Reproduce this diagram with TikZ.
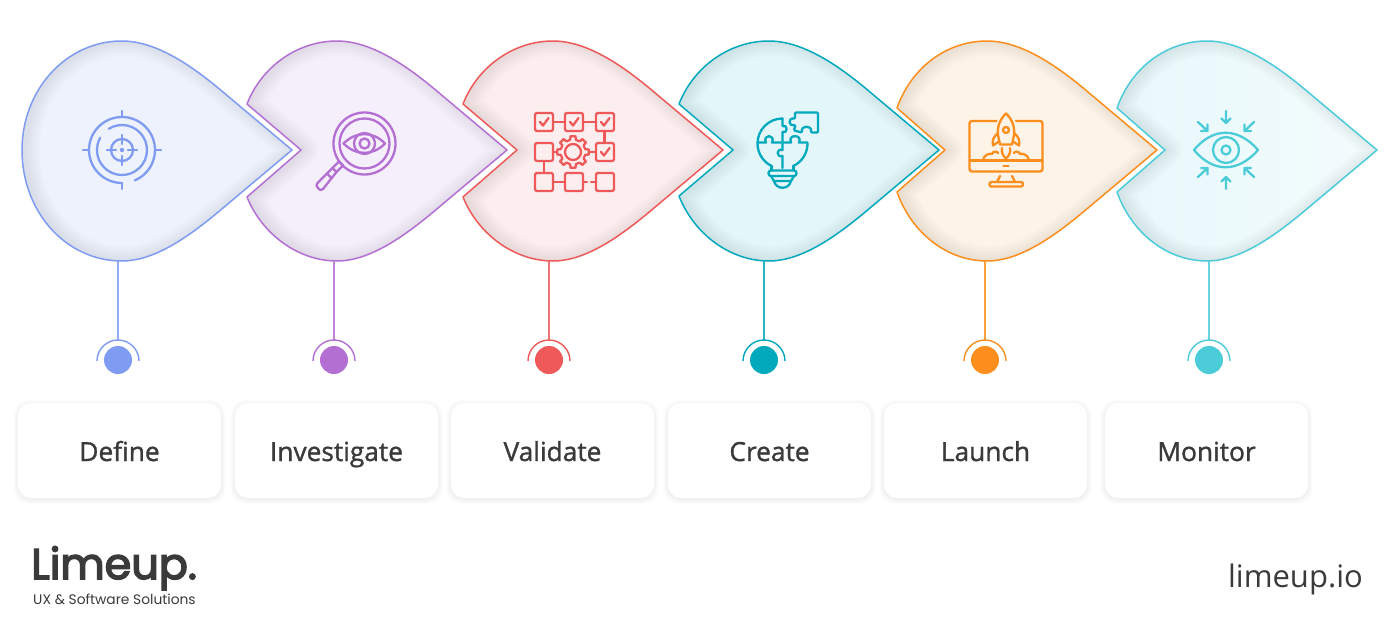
\documentclass[tikz,border=0pt]{standalone}
\usepackage{fontspec}
\setmainfont{Open Sans}
\newfontfamily\labelfont[FakeBold=1.2]{Open Sans}
\newfontfamily\logofont[FakeBold=3.5]{Poppins}
\newfontfamily\subfont{Poppins}
\definecolor{cA}{HTML}{7F9CF2}\definecolor{fA}{HTML}{EDF2FD}
\definecolor{cB}{HTML}{B46FD3}\definecolor{fB}{HTML}{F5EEFB}
\definecolor{cC}{HTML}{EF5959}\definecolor{fC}{HTML}{FCEEEE}
\definecolor{cD}{HTML}{00A9BC}\definecolor{fD}{HTML}{E3F6FA}
\definecolor{cE}{HTML}{FB8E1C}\definecolor{fE}{HTML}{FEF3E7}
\definecolor{cF}{HTML}{4CCCD9}\definecolor{fF}{HTML}{E8F8FB}\definecolor{gF}{HTML}{F3FCFD}
\definecolor{ink}{HTML}{3A3A3A}
\tikzset{
  cardbox/.style={draw=none,fill=white,rounded corners=13pt,minimum width=203pt,minimum height=95pt,inner sep=0pt,font=\labelfont\fontsize{26.3}{30}\selectfont,text=ink,text height=24pt,text depth=3pt},
  dotnode/.style={circle,minimum size=28pt,inner sep=0pt,draw=none},
  icon/.style={line width=2.3pt,line cap=round,line join=round}
}
% petal outlines, relative to the apex x
\newcommand\firstpath{(170,150) -- (101,92) .. controls (68,64) and (33,41) .. (0,41) .. controls (-56,41) and (-100,90) .. (-100,150) .. controls (-100,212) and (-56,261) .. (0,261) .. controls (33,261) and (68,236) .. (101,208) -- cycle}
\newcommand\notchpath[3]{(-90,#2) -- (#1,150) -- (-90,#3) .. controls (-75,234) and (-39,261) .. (0,261) .. controls (33,261) and (68,236) .. (101,208) -- (170,150) -- (101,92) .. controls (68,64) and (33,41) .. (0,41) .. controls (-39,41) and (-75,66) .. (-90,#2) -- cycle}
\newcommand\petal[4]{% apex x, path, fill, stroke
  \begin{scope}[xshift=#1pt]
    \fill[#3] #2;
    \begin{scope}
      \clip #2;
      \foreach \w in {3,6,...,30} {\draw[black,opacity=.008,line width=\w pt,line join=round] [xshift=3pt] #2;}
    \end{scope}
    \draw[#4,line width=1.5pt,line join=round] #2;
  \end{scope}}
\newcommand\arcc[6][]{\draw[icon,#1] ({#2+#4*cos(#5)},{#3-#4*sin(#5)}) arc[start angle=#5,end angle=#6,radius=#4 pt];}
\newcommand\stem[3]{% name, x, colour
  \coordinate (top#1) at (#2,261);
  \coordinate (arc#1) at (#2,339.5);
  \draw[#3!85,line width=1.1pt] (top#1) -- (arc#1);
  \node[dotnode,fill=#3] (dot#1) at (#2,360) {};
  \draw[#3,line width=1.4pt] ({#2-21},361) arc[start angle=180,end angle=0,radius=21pt];
}
\begin{document}
\begin{tikzpicture}[x=1pt,y=-1pt]
\useasboundingbox (0,0) rectangle (1400,624);
\fill[white] (0,0) rectangle (1400,624);

\petal{122}{\firstpath}{fA}{cA}
\petal{337}{\notchpath{-36}{104}{197}}{fB}{cB}
\petal{553}{\notchpath{-36}{104}{197}}{fC}{cC}
\petal{769}{\notchpath{-36}{104}{196}}{fD}{cD}
\petal{987}{\notchpath{-42}{108}{192}}{fE}{cE}
\petal{1207}{\notchpath{-42}{108}{192}}{left color=fF,right color=gF}{cF}

\stem{A}{118}{cA}
\stem{B}{334}{cB}
\stem{C}{549}{cC}
\stem{D}{764}{cD}
\stem{E}{985}{cE}
\stem{F}{1209}{cF}

% cards: soft shadow, then box
\foreach \x/\n/\t in {119.5/a/Define,336.5/b/Investigate,552.5/c/Validate,769.5/d/Create,985.5/e/Launch,1206.5/f/Monitor}{
  \foreach \g in {9,7,5,3,1}{
    \fill[black,opacity=.011,rounded corners=15pt] ({\x-101.5-\g/2},{403-\g/2+1.5}) rectangle ({\x+101.5+\g/2},{498+\g/2+1.5});
  }
  \node[cardbox] (card\n) at (\x,450.5) {\t};
}

% icon 1: target
\begin{scope}[cA]
\arcc{122}{150}{33}{-90}{-427}
\arcc{122}{150}{25}{122}{-209}
\draw[icon] (122,150) circle[radius=11pt];
\fill (122,150) circle[radius=2.2pt];
\draw[icon] (122,111)--(122,116) (83,150)--(88,150) (156,150)--(161,150) (122,183)--(122,189);
\draw[icon] (122,135)--(122,144) (107,150)--(116,150) (122,156)--(122,165) (128,150)--(137,150);
\end{scope}

% icon 2: magnifier
\begin{scope}[cB]
\draw[icon] (364.5,143.5) circle[radius=31pt];
\draw[icon] (364.5,143.5) circle[radius=25pt];
\draw[icon] (343.5,143.5) .. controls (356,131) and (373,131) .. (385,143.5) .. controls (373,156) and (356,156) .. (343.5,143.5) -- cycle;
\draw[icon] (364.5,143.5) circle[radius=10.5pt];
\draw[icon] (364.5,143.5) circle[radius=5pt];
\draw[icon] (343,165.5)--(339,161.5) (343,165.5)--(336.5,172)--(332.5,168)--(339,161.5);
\draw[icon] (332.5,168)--(317.5,183) .. controls (316,185) and (316,186) .. (318,188) .. controls (320,190.5) and (321.5,190.5) .. (323,189) -- (336.5,172);
\draw[icon] (327,173.5)--(331,177.5);
\end{scope}

% icon 3: workflow
\begin{scope}[cC]
\foreach \x/\y in {535/113,565/113,596/113,535/143,596/143,535/173,565/173,596/173}{
  \draw[icon,rounded corners=2pt] (\x,\y) rectangle ++(18,18);
}
\foreach \x/\y in {535/113,565/113,596/113,596/143}{
  \draw[icon] ({\x+5},{\y+9})--({\x+8},{\y+12.5})--({\x+13.5},{\y+5});
}
\draw[icon] (553,122)--(565,122) (583,122)--(596,122) (604.5,131)--(604.5,143)
  (553,152)--(557,152) (589,152)--(596,152) (544,161)--(544,173)
  (553,182)--(565,182) (583,182)--(587,182) (591,182)--(596,182);
\draw[icon] (573,152) circle[radius=8pt];
\draw[icon] \foreach \a in {0,45,...,315}{
  ({573+12.5*cos(\a-13)},{152-12.5*sin(\a-13)}) -- ({573+16*cos(\a-9)},{152-16*sin(\a-9)}) -- ({573+16*cos(\a+9)},{152-16*sin(\a+9)}) -- ({573+12.5*cos(\a+13)},{152-12.5*sin(\a+13)}) -- ({573+12.5*cos(\a+32)},{152-12.5*sin(\a+32)})
};
\end{scope}

% icon 4: bulb and puzzle
\begin{scope}[cD]
\arcc{782.5}{143.5}{25}{90}{245}
\arcc{782.5}{143.5}{25}{0}{-65}
\draw[icon] (782.5,118.5)--(782.5,126) .. controls (788,124) and (788,134) .. (782.5,132) -- (782.5,142.5);
\draw[icon] (757.5,142.5)--(766,142.5) .. controls (762,134) and (776,134) .. (772,142.5) -- (782.5,142.5) -- (791,142.5) .. controls (787,134) and (803,134) .. (799,142.5) -- (807.5,142.5);
\draw[icon] (782.5,142.5)--(782.5,150) .. controls (776,148) and (776,158) .. (782.5,156) -- (782.5,168);
\draw[icon] (771.5,166)--(771.5,170.5) (793.5,166)--(793.5,170.5);
\draw[icon,rounded corners=2.5pt] (768.5,170.5) rectangle (796.5,176);
\draw[icon] (771,176)--(774,181)--(791,181)--(794,176);
\draw[icon] (774,181) .. controls (776,190) and (789,190) .. (791,181);
\draw[icon,rounded corners=1pt] (795,112.5)--(818,112.5)--(818,132.5)--(811,132.5) .. controls (812,125) and (801,125) .. (802,132.5) -- (794,130.5)--(795.5,125) .. controls (789,127) and (787,118) .. (795,118.5) -- cycle;
\end{scope}

% icon 5: monitor and rocket
\begin{scope}[cE]
\draw[icon,rounded corners=2.5pt] (996.5,121)--(969.5,121)--(969.5,171.5)--(1042.5,171.5)--(1042.5,121)--(1016,121);
\draw[icon] (969.5,160.5)--(1042.5,160.5);
\draw[icon] (1003.5,166)--(1008.5,166);
\draw[icon] (1000,176)--(997,182) (1012,176)--(1015,182);
\draw[icon,rounded corners=1.5pt] (989.5,182)--(1023,182)--(1023,186.5)--(989.5,186.5)--cycle;
\draw[icon] (1006,113.5) .. controls (1000,119) and (997,127) .. (998,135) -- (1000,144.5) -- (1012,144.5) -- (1014,135) .. controls (1015,127) and (1012,119) .. (1006,113.5) -- cycle;
\draw[icon] (1006,130) circle[radius=3pt];
\draw[icon] (998,133) .. controls (993,137) and (992,141) .. (993,145.5) -- (999,141.5);
\draw[icon] (1014,133) .. controls (1019,137) and (1020,141) .. (1019,145.5) -- (1013,141.5);
\draw[icon] (1002,148) .. controls (1001,152) and (1003,156) .. (1006,158.5) .. controls (1009,156) and (1011,152) .. (1010,148);
\draw[icon] (983,160) .. controls (984,155) and (989,153) .. (992,154) .. controls (993,151) and (997,151) .. (998,153);
\draw[icon] (1029,160) .. controls (1028,155) and (1023,153) .. (1020,154) .. controls (1019,151) and (1015,151) .. (1014,153);
\end{scope}

% icon 6: eye and arrows
\begin{scope}[cF]
\draw[icon] (1194,150) .. controls (1213,127) and (1238,127) .. (1258,150) .. controls (1238,173) and (1213,173) .. (1194,150) -- cycle;
\draw[icon] (1226,150) circle[radius=13pt];
\draw[icon] (1226,150) circle[radius=4.5pt];
\draw[icon] (1226,111)--(1226,122.5) (1221.5,118.5)--(1226,123)--(1230.5,118.5);
\draw[icon] (1226,189)--(1226,177.5) (1221.5,181.5)--(1226,177)--(1230.5,181.5);
\draw[icon] (1198,122)--(1207.5,131) (1207.5,124.5)--(1207.5,131)--(1201,131);
\draw[icon] (1254,122)--(1244.5,131) (1244.5,124.5)--(1244.5,131)--(1251,131);
\draw[icon] (1198,177)--(1207.5,168) (1207.5,174.5)--(1207.5,168)--(1201,168);
\draw[icon] (1254,177)--(1244.5,168) (1244.5,174.5)--(1244.5,168)--(1251,168);
\end{scope}

\node[anchor=base west,inner sep=0pt,text=ink,font=\logofont\fontsize{43}{46}\selectfont] (logo) at (31,579) {Limeup.};
\node[anchor=base west,inner sep=0pt,text=ink,font=\subfont\fontsize{13.8}{15}\selectfont] (sub) at (33,604) {UX \& Software Solutions};
\node[anchor=base east,inner sep=0pt,text=ink,font=\fontsize{31}{36}\selectfont] (site) at (1363,587) {limeup.io};
\end{tikzpicture}
\end{document}
